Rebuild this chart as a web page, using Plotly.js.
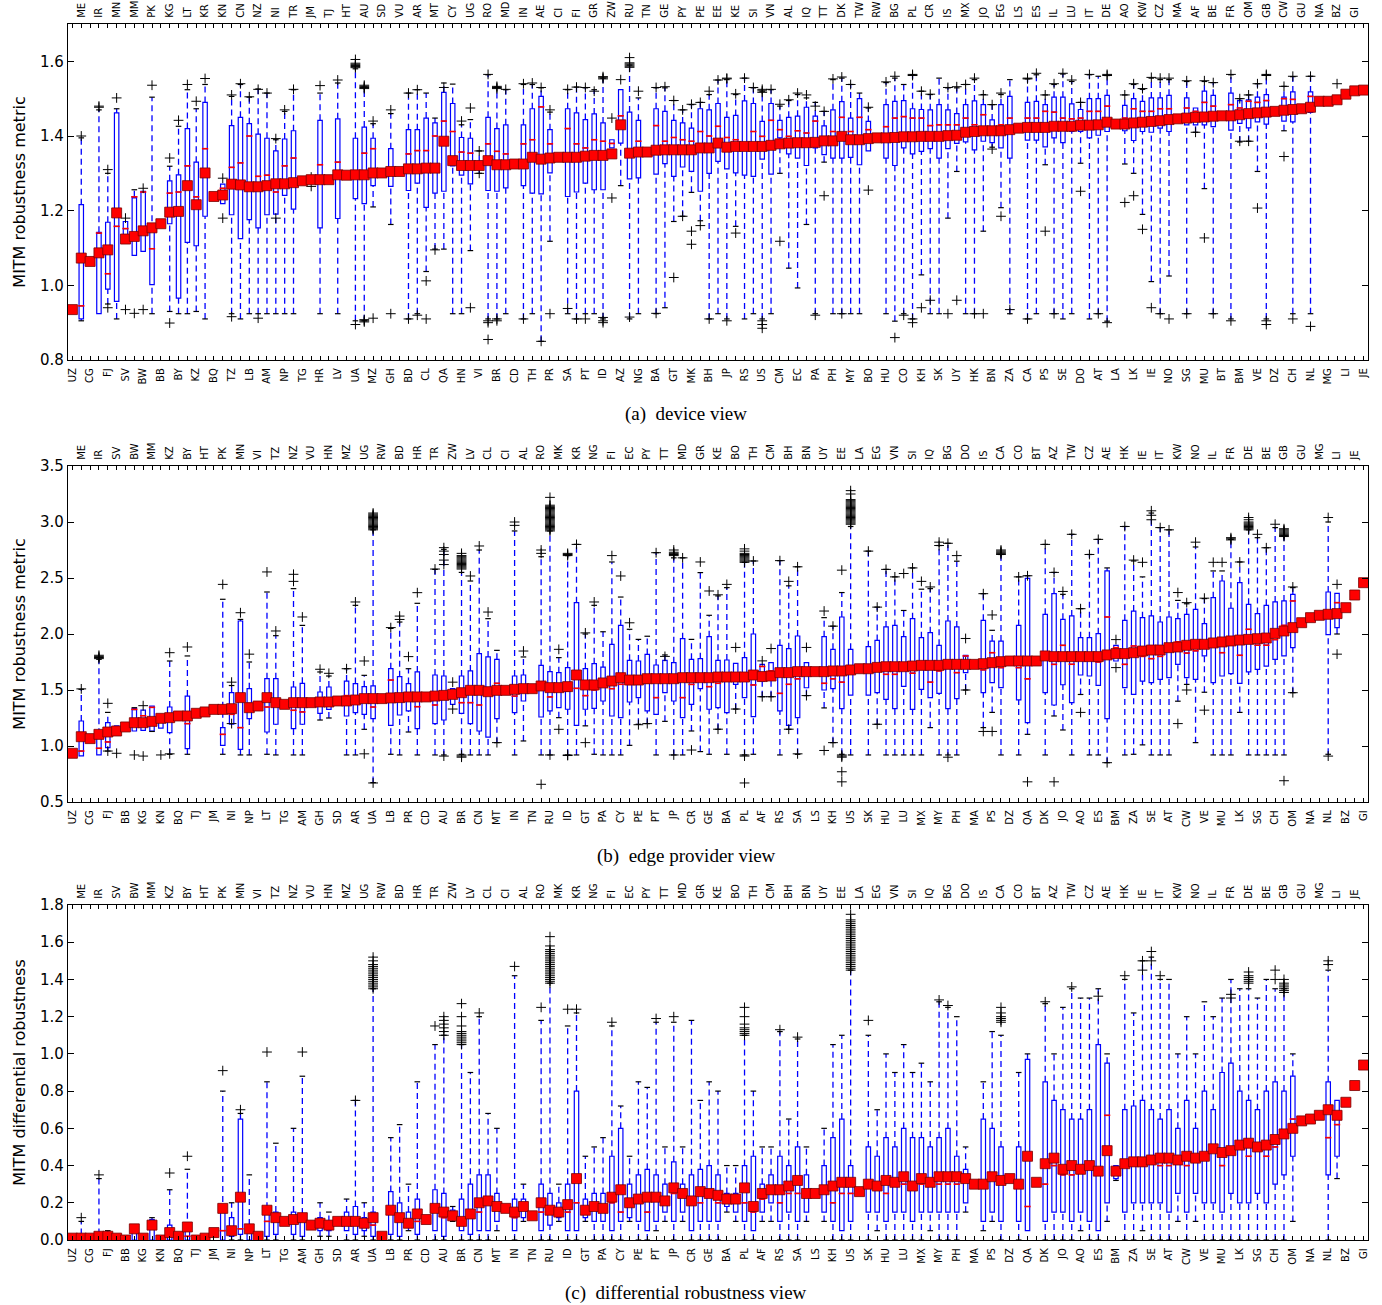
<!DOCTYPE html>
<html><head><meta charset="utf-8">
<script src="https://cdn.plot.ly/plotly-3.0.1.min.js"></script>
<style>html,body{margin:0;padding:0;background:#fff}#chart{width:1382px;height:1305px}</style>
</head><body><div id="chart"></div>
<script>
// ---------- tick labels ----------
const aBottom = ["UZ","CG","FJ","SV","BW","BB","BY","KZ","BQ","TZ","LB","AM","NP","TG","HR","LV","UA","MZ","GH","BD","CL","QA","HN","VI","BR","CD","TH","PR","SA","PT","ID","AZ","NG","BA","GT","MK","BH","JP","RS","US","CM","EC","PA","PH","MY","BO","HU","CO","KH","SK","UY","HK","BN","ZA","CA","PS","SE","DO","AT","LA","LK","IE","NO","SG","MU","BT","BM","VE","DZ","CH","NL","MG","LI","JE"];
const aTop = ["ME","IR","MN","MM","PK","KG","LT","KR","KN","CN","NZ","NI","TR","JM","TJ","HT","AU","SD","VU","AR","MT","CY","UG","RO","MD","IN","AE","CI","FI","GR","ZW","RU","TN","GE","PY","PE","EE","KE","SI","VN","AL","IQ","TT","DK","TW","RW","BG","PL","CR","IS","MX","JO","EG","LS","ES","IL","LU","IT","DE","AO","KW","CZ","MA","AF","BE","FR","OM","GB","CW","GU","NA","BZ","GI"];
const bBottom = ["UZ","CG","FJ","BB","KG","KN","BQ","TJ","JM","NI","NP","LT","TG","AM","GH","SD","AR","UA","LB","PR","CD","AU","BR","CN","MT","IN","TN","RU","ID","GT","PA","CY","PE","PT","JP","CR","GE","BA","PL","AF","RS","SA","LS","KH","US","SK","HU","LU","MX","MY","PH","MA","PS","DZ","QA","DK","JO","AO","ES","BM","ZA","SE","AT","CW","VE","MU","LK","SG","CH","OM","NA","NL","BZ","GI"];
const bTop = ["ME","IR","SV","BW","MM","KZ","BY","HT","PK","MN","VI","TZ","NZ","VU","HN","MZ","UG","RW","BD","HR","TR","ZW","LV","CL","CI","AL","RO","MK","KR","NG","FI","EC","PY","TT","MD","GR","KE","BO","TH","CM","BH","BN","UY","EE","LA","EG","VN","SI","IQ","BG","DO","IS","CA","CO","BT","AZ","TW","CZ","AE","HK","IE","IT","KW","NO","IL","FR","DE","BE","GB","GU","MG","LI","JE"];

// ---------- (a) device view ----------
const aLo = [null,0.905,null,0.924,0.95,0.91,1.136,1.08,1.091,0.924,
null,0.93,0.924,0.924,0.93,0.91,null,1.219,0.924,0.91,
0.924,0.924,0.924,0.924,0.924,0.924,null,null,0.924,null,
0.924,null,0.905,0.905,1.21,null,1.163,null,0.91,0.924,
1.037,1.097,1.097,0.924,0.924,1.093,1.30,0.91,0.91,0.924,
null,0.91,0.924,0.85,1.118,null,0.924,0.91,0.924,0.924,
0.91,1.368,1.267,0.91,0.924,null,0.924,0.94,1.171,1.185,
1.249,1.173,0.91,0.924,0.91,1.158,0.91,0.924,0.91,0.924,
1.30,1.046,0.993,1.163,0.924,1.33,0.924,0.924,0.924,0.924,
1.36,null,0.924,0.904,0.924,0.91,1.028,0.924,0.924,1.18,
1.305,0.924,0.924,1.145,1.37,1.208,0.924,null,0.91,0.924,
1.323,0.924,0.91,0.924,1.327,0.91,0.924,0.904,null,1.325,
1.30,1.19,1.01,0.924,1.025,null,0.924,1.41,1.259,0.924,
null,0.91,1.384,1.386,1.305,0.91,null,1.414,0.924,null,
0.924,null,null,null,null,null,null];
const aQ1 = [null,0.91,null,0.924,0.99,0.957,1.136,1.08,1.091,1.002,
null,1.165,0.966,1.115,1.106,1.185,null,1.219,1.189,1.125,
1.176,1.154,1.189,1.191,1.241,1.204,null,null,1.154,null,
1.179,null,1.232,1.219,1.267,null,1.265,null,1.254,1.274,
1.209,1.247,1.252,1.32,1.295,1.272,1.311,1.254,1.252,1.261,
null,1.267,1.247,1.245,1.301,null,1.238,1.25,1.274,1.256,
1.256,1.368,1.381,1.285,1.288,null,1.298,1.326,1.292,1.317,
1.305,1.252,1.30,1.332,1.312,1.301,1.295,1.292,1.338,1.298,
1.395,1.352,1.341,1.321,1.368,1.35,1.341,1.341,1.343,1.323,
1.36,null,1.341,1.321,1.368,1.352,1.359,1.366,1.341,1.366,
1.38,1.384,1.363,1.386,1.382,1.368,1.341,null,1.389,1.389,
1.371,1.395,1.382,1.412,1.412,1.395,1.402,1.412,null,1.414,
1.388,1.412,1.41,1.421,1.412,null,1.43,1.43,1.43,1.425,
null,1.416,1.434,1.422,1.438,1.432,null,1.44,1.438,null,
1.463,null,null,null,null,null,null];
const aMed = [null,0.945,null,1.14,1.031,1.158,1.152,1.237,1.25,1.098,
null,1.247,1.25,1.32,1.237,1.366,null,1.26,1.316,1.328,
1.40,1.292,1.295,1.25,1.32,1.341,null,null,1.323,null,
1.33,null,1.30,1.354,1.366,null,1.296,null,1.352,1.361,
1.361,1.40,1.44,1.412,1.357,1.354,1.323,1.379,1.359,1.352,
null,1.379,1.39,1.478,1.379,null,1.42,1.379,1.368,1.39,
1.386,1.38,1.454,1.354,1.386,null,1.428,1.386,1.396,1.39,
1.386,1.412,1.40,1.426,1.396,1.39,1.38,1.412,1.399,1.442,
1.417,1.399,1.414,1.408,1.44,1.39,1.412,1.45,1.412,1.45,
1.417,null,1.425,1.448,1.452,1.448,1.448,1.428,1.43,1.43,
1.43,1.448,1.43,1.457,1.41,1.43,1.448,null,1.448,1.448,
1.466,1.464,1.448,1.446,1.448,1.466,1.466,1.48,null,1.448,
1.473,1.466,1.466,1.473,1.473,null,1.475,1.466,1.49,1.48,
null,1.484,1.475,1.493,1.49,1.495,null,1.50,1.498,null,
1.506,null,null,null,null,null,null];
const aQ3 = [null,1.216,null,1.142,1.169,1.462,1.171,1.237,1.252,1.145,
null,1.28,1.296,1.42,1.33,1.49,null,1.271,1.428,1.45,
1.433,1.405,1.394,1.36,1.392,1.414,null,null,1.442,null,
1.446,null,1.394,1.424,1.394,null,1.366,null,1.417,1.417,
1.448,1.435,1.517,1.487,1.396,1.394,1.332,1.45,1.42,1.43,
null,1.43,1.473,1.506,1.417,null,1.473,1.462,1.444,1.459,
1.435,1.39,1.524,1.464,1.442,null,1.473,1.466,1.442,1.435,
1.421,1.473,1.47,1.487,1.45,1.455,1.494,1.487,1.439,1.487,
1.442,1.45,1.453,1.477,1.453,1.427,1.47,1.492,1.448,1.50,
1.439,null,1.484,1.493,1.495,1.473,1.471,1.47,1.484,1.47,
1.46,1.484,1.494,1.484,1.443,1.484,1.506,null,1.49,1.493,
1.484,1.504,1.504,1.486,1.471,1.50,1.50,1.509,null,1.482,
1.50,1.493,1.502,1.502,1.509,null,1.502,1.475,1.52,1.509,
null,1.515,1.495,1.497,1.504,1.511,null,1.504,1.518,null,
1.518,null,null,null,null,null,null];
const aHi = [null,1.395,null,1.47,1.30,1.473,1.171,1.256,1.252,1.504,
null,1.319,1.426,1.524,1.473,1.538,null,1.271,1.506,1.538,
1.504,1.526,1.515,1.39,1.466,1.524,null,null,1.515,null,
1.542,null,1.58,1.531,1.433,null,1.46,null,1.515,1.524,
1.515,1.448,1.542,1.539,1.43,1.444,1.36,1.564,1.531,1.524,
null,1.538,1.538,1.529,1.464,null,1.524,1.531,1.529,1.524,
1.555,1.39,1.524,1.59,1.502,null,1.529,1.529,1.495,1.47,
1.484,1.49,1.511,1.55,1.551,1.511,1.555,1.529,1.52,1.524,
1.48,1.495,1.511,1.502,1.49,1.466,1.551,1.555,1.538,1.515,
1.475,null,1.543,1.555,1.538,1.564,1.52,1.511,1.555,1.529,
1.529,1.538,1.551,1.511,1.484,1.511,1.551,null,1.553,1.564,
1.51,1.538,1.566,1.546,1.49,1.564,1.56,1.562,null,1.51,
1.538,1.525,1.555,1.551,1.551,null,1.546,1.475,1.546,1.543,
null,1.564,1.50,1.51,1.54,1.564,null,1.533,1.559,null,
1.56,null,null,null,null,null,null];
const aMean = [0.935,1.073,1.064,1.087,1.095,1.194,1.124,1.131,1.146,1.154,
1.165,1.196,1.198,1.267,1.216,1.301,1.238,1.242,1.271,1.269,
1.264,1.264,1.267,1.272,1.272,1.275,1.28,1.283,1.283,1.283,
1.296,1.295,1.296,1.296,1.301,1.301,1.305,1.305,1.312,1.312,
1.314,1.314,1.386,1.334,1.321,1.321,1.321,1.334,1.323,1.323,
1.325,1.325,1.343,1.338,1.341,1.343,1.343,1.343,1.346,1.348,
1.348,1.352,1.43,1.354,1.357,1.357,1.362,1.363,1.363,1.363,
1.363,1.368,1.368,1.381,1.37,1.372,1.372,1.372,1.372,1.375,
1.379,1.381,1.382,1.382,1.383,1.387,1.387,1.399,1.39,1.39,
1.393,1.395,1.395,1.396,1.398,1.398,1.399,1.399,1.399,1.401,
1.402,1.41,1.412,1.414,1.414,1.414,1.417,1.421,1.423,1.423,
1.423,1.426,1.426,1.426,1.429,1.429,1.43,1.437,1.432,1.432,
1.435,1.437,1.439,1.441,1.444,1.446,1.448,1.45,1.451,1.453,
1.454,1.454,1.457,1.46,1.462,1.464,1.466,1.469,1.471,1.473,
1.477,1.493,1.493,1.497,1.512,1.521,1.523];
const aOutliers = [[1,1.40],[3,1.477,1.48],[4,1.31,0.94],[5,1.502],[6,1.18,0.935],[7,0.925],[8,1.26,0.935],[9,1.536],[11,1.341,0.899],[12,1.442],[13,1.538],[14,1.493],[15,1.554],[17,1.287,1.18],[18,1.51,0.916],[19,1.54],[20,1.505],[21,1.525,0.912],[22,1.515],[23,1.393,1.18],[24,1.47],[25,1.525],[27,1.29,1.265],[28,1.535],[30,1.55],[32,1.583,1.586,1.589,1.592,1.595,1.605,0.895],[33,1.527,1.530,1.533,1.536,0.902,0.905,0.908],[34,1.44,0.912],[36,1.47,0.924],[38,1.515,0.91],[39,1.524,0.92],[40,1.012,0.91],[41,1.095],[42,1.53],[44,1.44],[45,1.475,0.94],[46,1.30,1.36],[47,0.855,0.905,0.9,1.565],[48,1.527,1.530,1.533,0.905,0.91],[49,1.525],[51,1.54,0.91],[52,1.542],[53,1.53,0.85],[54,1.47,0.924],[56,0.938,1.525],[57,1.531,0.91],[58,0.91,1.53],[59,1.52],[60,1.553,1.556,1.559,0.914,0.905,0.9],[61,1.448,1.234],[62,1.551],[63,1.584,1.587,1.590,1.593,1.596,1.61,0.915],[64,1.52],[66,1.53,0.925],[67,1.532],[68,1.495,1.021],[69,1.47,1.185],[70,1.485,1.145,1.11],[71,1.49,1.16],[72,0.91,1.52],[73,1.55],[74,1.553,1.555,0.905],[75,1.513,1.14],[76,1.555],[77,1.53],[78,1.517,1.521,1.525,0.905,0.895,0.885],[79,1.525],[80,1.485,1.118],[81,1.497],[82,1.515],[83,1.51],[84,1.48,0.92],[85,1.466,1.24],[86,1.553],[87,1.558,0.924],[88,1.538],[90,1.477,1.255],[92,1.545],[93,1.56,0.86],[94,0.92],[95,1.562,1.565,0.91,0.90],[96,1.52,0.94],[97,1.512,0.96],[99,1.53,0.924],[100,1.532,0.96],[101,1.538],[102,1.555,0.924],[103,1.51,0.924],[104,1.484,1.365],[105,1.515,1.185],[106,0.935],[108,1.553,1.555,0.91],[109,1.568],[110,1.51,1.145],[111,1.54,0.924],[112,1.568],[113,1.55],[114,1.49,1.252],[115,1.565],[116,0.924],[117,1.562,1.565,0.9],[119,1.51,1.222],[120,1.54,1.24],[121,1.527,1.15],[122,1.557,0.94],[123,1.555,0.924],[124,1.555,0.91],[126,1.548,0.924],[127,1.41],[128,1.548,1.127],[129,1.543,0.924],[131,1.565,0.905],[132,1.5,1.386],[133,1.51,1.386],[134,1.54,1.207],[135,1.562,1.565,0.905,0.895],[137,1.533,1.345],[138,1.56,0.91],[140,1.56,0.89],[143,1.54]];

// ---------- (b) edge provider view ----------
const bLo = [null,0.911,null,0.92,0.955,1.149,null,1.134,1.14,1.13,
1.16,0.926,null,0.926,null,null,null,0.926,1.194,0.92,
0.92,null,0.926,0.92,null,0.92,0.92,null,1.232,1.25,
null,0.92,0.92,1.149,0.673,null,0.926,0.92,1.125,0.92,
null,0.92,0.92,1.372,0.926,0.92,0.92,0.92,1.03,null,
0.92,1.045,null,0.92,0.92,1.253,0.92,0.92,1.18,0.926,
0.92,0.92,0.92,1.006,1.194,1.20,0.92,1.22,0.92,0.92,
1.134,0.95,0.926,1.149,0.926,1.33,0.92,0.926,1.44,1.44,
0.92,1.149,0.926,1.45,null,1.34,1.03,0.926,0.92,null,
0.92,1.194,0.92,0.92,0.92,0.92,0.92,1.164,0.92,0.92,
0.92,1.50,null,1.164,1.30,0.92,null,0.92,1.104,null,
0.92,1.268,1.143,0.92,1.46,0.92,0.92,0.851,1.759,0.92,
0.926,1.01,0.92,0.92,0.92,1.40,1.55,1.03,1.48,0.92,
0.92,0.92,1.30,0.92,0.92,0.92,0.92,0.92,1.476,null,
null,null,0.926,2.0,null,null,null];
const bQ1 = [null,0.911,null,0.92,0.985,1.149,null,1.134,1.14,1.134,
1.16,1.119,null,0.976,null,null,null,1.006,1.194,0.97,
1.244,null,1.125,1.194,null,1.155,1.194,null,1.292,1.327,
null,1.268,1.298,1.283,1.244,null,1.185,1.277,1.313,1.155,
null,1.20,1.232,1.372,1.292,1.20,1.134,1.08,1.244,null,
1.298,1.402,null,1.259,1.313,1.342,1.328,1.185,1.328,1.336,
1.402,1.268,1.253,1.393,1.432,1.313,1.283,1.476,1.402,1.253,
1.372,1.512,1.328,1.342,1.298,1.551,1.432,1.262,1.58,1.625,
1.313,1.185,1.253,1.52,null,1.50,1.512,1.333,1.455,null,
1.455,1.476,1.417,1.333,1.533,1.327,1.506,1.432,1.47,1.333,
1.423,1.655,null,1.476,1.565,1.521,null,1.411,1.208,null,
1.476,1.366,1.547,1.387,1.634,1.625,1.542,1.244,1.759,1.521,
1.461,1.58,1.565,1.595,1.61,1.729,1.61,1.595,1.804,1.565,
1.625,1.646,1.56,1.661,1.685,1.714,1.774,1.804,1.878,null,
null,null,1.994,2.057,null,null,null];
const bMed = [null,0.955,null,0.98,1.036,1.16,null,1.327,1.27,1.345,
1.22,1.25,null,1.2,null,null,null,1.104,1.283,1.164,
1.38,null,1.348,1.393,null,1.319,1.304,null,1.41,1.41,
null,1.45,1.42,1.40,1.348,null,1.589,1.45,1.45,1.351,
null,1.366,1.42,1.45,1.387,1.387,1.366,1.49,1.56,null,
1.446,1.50,null,1.51,1.438,1.50,1.49,1.515,1.45,1.50,
1.55,1.512,1.551,1.55,1.58,1.56,1.432,1.60,1.60,1.432,
1.55,1.60,1.53,1.56,1.61,1.625,1.595,1.545,1.71,1.67,
1.47,1.551,1.60,1.65,null,1.56,1.60,1.57,1.65,null,
1.66,1.69,1.64,1.64,1.72,1.65,1.70,1.57,1.67,1.73,
1.655,1.804,null,1.68,1.833,1.70,null,1.70,1.60,null,
1.80,1.729,1.899,1.73,1.80,1.80,1.75,2.152,1.878,1.729,
1.893,1.80,1.78,1.80,1.85,1.93,1.83,1.85,1.90,1.90,
1.833,1.90,1.81,2.042,1.90,1.90,1.95,2.077,2.295,null,
null,null,2.206,2.28,null,null,null];
const bQ3 = [null,1.223,null,1.104,1.208,1.179,null,1.333,1.32,1.357,
1.26,1.348,null,1.446,null,null,null,1.164,1.476,2.116,
1.512,null,1.601,1.601,null,1.527,1.56,null,1.482,1.527,
null,1.58,1.557,1.53,1.536,null,1.69,1.619,1.557,1.661,
null,1.634,1.625,1.512,1.625,1.67,1.824,1.795,1.774,null,
1.625,1.634,null,1.72,1.664,1.655,1.70,2.28,1.69,1.735,
1.705,1.908,2.077,1.765,1.759,1.818,1.723,1.765,1.744,1.958,
1.774,1.78,1.976,1.765,1.768,1.738,1.789,2.0,1.729,1.744,
1.899,1.869,1.982,1.744,null,1.976,1.863,2.152,1.863,null,
1.887,1.943,2.063,2.077,1.976,2.137,1.967,2.012,1.899,2.116,
2.063,1.81,null,2.122,1.937,1.937,null,2.077,2.497,null,
2.176,2.36,2.131,2.161,1.967,1.967,2.003,2.563,1.899,2.122,
2.205,2.146,2.161,2.107,2.152,2.137,2.176,2.22,2.092,2.324,
2.473,2.23,2.458,2.265,2.182,2.256,2.286,2.295,2.354,null,
null,null,2.375,2.363,null,null,null];
const bHi = [null,1.506,null,1.774,1.30,1.179,null,1.342,1.32,1.357,
1.26,1.759,null,1.804,null,null,null,2.31,1.54,2.13,
1.75,null,2.375,1.985,null,2.405,2.077,null,1.661,1.625,
null,1.69,2.256,1.631,2.93,null,2.05,2.107,1.69,2.274,
null,2.577,2.756,1.512,2.55,2.473,2.75,2.137,1.854,null,
2.92,1.795,null,2.69,2.92,1.789,2.70,2.80,2.0,2.256,
2.02,2.643,2.33,2.042,1.952,1.98,2.726,1.813,2.68,2.68,
1.952,2.548,2.167,2.34,2.414,1.738,2.64,2.652,1.729,1.744,
2.655,2.43,2.6,1.744,null,2.146,2.07,2.37,2.96,null,
2.74,2.24,2.577,2.51,2.21,2.59,2.40,2.405,2.79,2.81,
2.65,1.81,null,2.36,2.033,2.71,null,2.51,2.52,null,
2.80,2.55,2.354,2.89,2.226,2.71,2.845,2.59,1.899,2.96,
2.652,2.51,3.08,2.95,2.93,2.30,2.27,2.777,2.316,2.563,
2.563,2.845,2.643,2.93,2.86,2.77,2.95,2.875,2.414,null,
null,null,3.0,2.363,null,null,null];
const bMean = [0.935,1.083,1.066,1.104,1.125,1.134,1.17,1.208,1.208,1.22,
1.247,1.253,1.268,1.268,1.292,1.304,1.327,1.327,1.333,1.432,
1.342,1.357,1.432,1.387,1.372,1.387,1.387,1.387,1.393,1.393,
1.402,1.402,1.411,1.423,1.423,1.423,1.429,1.432,1.438,1.438,
1.438,1.446,1.452,1.461,1.476,1.497,1.497,1.485,1.497,1.497,
1.506,1.512,1.512,1.536,1.521,1.521,1.53,1.634,1.545,1.545,
1.563,1.58,1.61,1.589,1.589,1.601,1.601,1.601,1.601,1.61,
1.61,1.61,1.61,1.616,1.616,1.616,1.616,1.634,1.62,1.625,
1.655,1.655,1.664,1.664,1.664,1.664,1.67,1.67,1.679,1.69,
1.69,1.702,1.708,1.708,1.708,1.714,1.72,1.72,1.72,1.729,
1.729,1.729,1.729,1.735,1.744,1.753,1.759,1.759,1.759,1.759,
1.804,1.798,1.798,1.798,1.798,1.798,1.798,1.813,1.825,1.825,
1.833,1.848,1.857,1.857,1.878,1.884,1.899,1.908,1.908,1.92,
1.929,1.938,1.946,1.952,1.958,1.964,2.006,2.027,2.057,2.101,
2.146,2.167,2.176,2.182,2.235,2.348,2.458];
const bOutliers = [[1,1.51],[3,1.78,1.79,1.80,1.81],[4,1.381,0.955],[5,0.935],[7,0.92],[8,1.36,0.91],[10,0.92],[11,1.833,0.93],[13,1.884],[17,2.443],[18,1.57,1.20],[19,2.19],[20,1.82],[22,2.554],[23,2.027],[25,2.533,2.47],[26,2.152],[28,1.685],[29,1.649],[31,1.69],[32,2.286],[33,1.759,0.93],
[34,2.93,2.94,2.95,2.96,2.97,2.98,2.99,3.00,3.01,3.02,3.03,3.04,3.05,3.06,3.07,3.08,0.67],[36,2.057],[37,2.16,2.13],[38,1.798],[39,2.369],[41,2.58],[42,2.771,2.74,2.71,2.66,2.62,0.91],[43,1.57,1.33],
[44,2.58,2.59,2.60,2.61,2.62,2.63,2.64,2.65,2.66,2.67,2.68,2.69,2.70,2.72,0.92,0.91,0.90],[45,2.518],[46,2.786],[47,2.196],[48,1.03],[50,3.0,2.97],[51,1.848],[53,2.72,2.75,0.658],
[54,2.92,2.93,2.94,2.95,2.96,2.97,2.98,2.99,3.00,3.01,3.02,3.03,3.04,3.05,3.06,3.07,3.08,3.09,3.10,3.11,3.12,3.13,3.14,3.15,3.22,0.92],[55,1.863,1.149],[56,2.70,2.71,2.72,0.92,0.915],[57,2.8],[58,2.01,1.03],[59,2.286],[61,2.7],[62,2.518],[63,2.1],[64,1.19],[65,1.2],[66,2.726],[67,1.80],[68,2.70,2.71,2.72,2.73,2.75,0.92],[69,2.68],[70,0.964],[71,2.643],[72,2.384],[73,2.35,1.15],[74,2.443],[75,1.88,1.33],
[76,2.64,2.65,2.66,2.67,2.68,2.69,2.70,2.71,2.72,2.74,2.76,0.92,0.91,0.67],[77,2.652],[78,1.76,1.44],[79,1.87,1.44],[80,2.655],[81,2.47,1.15],[82,2.6,0.93],[83,1.88,1.45],[85,2.205,0.96],[86,2.07,1.03],[87,2.57,0.92,0.91,0.90,0.77,0.68],
[88,2.98,2.99,3.00,3.01,3.02,3.03,3.04,3.05,3.06,3.07,3.08,3.09,3.10,3.11,3.12,3.13,3.14,3.15,3.16,3.17,3.18,3.19,3.20,3.25,3.28],[90,2.74],[91,2.24,1.194],[92,2.577],[93,2.51],[94,2.54],[95,2.59],[96,2.47],[97,2.42],[98,2.79,2.82],[99,2.81,0.9],[100,2.7],[101,1.96,1.75,1.50],[103,2.36,1.13],[104,2.17,1.13],[105,2.71,2.72,2.73,2.74,2.75],[107,2.51],[108,2.52,0.68],[110,2.80],[111,2.55,0.68],[112,2.38],[113,2.89],[114,2.226,1.3],[115,2.71],[116,2.845],[117,0.851],[118,1.95,1.70],[119,2.96],[120,2.66],[121,2.64],[122,3.1,3.06,3.02],[123,2.95],[124,2.93],[125,2.37,1.2],[126,2.28,1.5],[127,2.82],[128,2.32,1.32],[129,2.64],[130,2.64],[131,2.84,2.85,2.86],[132,2.643],[133,2.93,2.94,2.95,2.96,2.97,2.98,2.99,3.00,3.02,3.04],[134,2.89],[135,2.77],[136,2.98],[137,2.87,2.88,2.89,2.90,2.91,2.92,2.93,2.94,0.69],[138,2.42,1.476],[142,3.04,0.91],[143,2.443,1.82]];

// ---------- (c) differential robustness view ----------
const cLo = [null,0,null,0,0,0,null,0,0,0,
0,0,null,0,null,null,null,0,0,0,
0,null,0,0,null,0,0,null,0.02,0.02,
null,0,0,0.02,0,null,0,0,0.05,0,
null,0,0,0.1,0,0,0,0,0.05,null,
0,0.1,null,0,0,0.1,0,0,0.1,0,
0,0,0,0.1,0,0,0.05,0.1,0,0.1,
0,0,0,0,0.15,0.1,0,0,0.1,0.1,
0,0,0,0.1,null,0.1,0,0,0,null,
0,0.05,0,0,0,0,0,0.05,0,0,
0,0.15,null,0.05,0.1,0,null,0,0.05,null,
0,0,0,0,0.05,0,0,0.1,0.32,0,
0,0.05,0,0,0,0.1,0,0.1,0,0,
0,0,0,0,0,0,0,0,0.1,null,
null,null,0,0.33,null,null,null];
const cQ1 = [null,0,null,0,0,0,null,0,0,0,
0,0,null,0,null,null,null,0,0.02,0.03,
0,null,0.02,0.03,null,0.03,0.02,null,0.05,0.05,
null,0.05,0.03,0.05,0.02,null,0.03,0.02,0.08,0.03,
null,0.05,0.02,0.12,0.05,0.03,0.05,0.05,0.1,null,
0.05,0.12,null,0.05,0.08,0.12,0.05,0.05,0.12,0.1,
0.1,0.05,0.1,0.12,0.1,0.05,0.1,0.15,0.1,0.15,
0.05,0.1,0.1,0.1,0.18,0.15,0.1,0.05,0.15,0.2,
0.1,0.15,0.1,0.15,null,0.15,0.1,0.05,0.1,null,
0.15,0.15,0.1,0.15,0.15,0.1,0.15,0.15,0.15,0.15,
0.15,0.2,null,0.1,0.15,0.1,null,0.1,0.05,null,
0.1,0.15,0.15,0.1,0.15,0.1,0.05,0.2,0.33,0.15,
0.2,0.2,0.2,0.2,0.15,0.25,0.15,0.25,0.2,0.2,
0.15,0.25,0.2,0.2,0.25,0.2,0.3,0.35,0.45,null,
null,null,0.35,0.45,null,null,null];
const cMed = [null,0.01,null,0.01,0.01,0,null,0.05,0,0.08,
0,0.02,null,0.02,null,null,null,0.05,0.07,0.06,
0.04,null,0.1,0.1,null,0.1,0.1,null,0.09,0.08,
null,0.1,0.1,0.08,0.08,null,0.15,0.1,0.1,0.1,
null,0.15,0.12,0.14,0.1,0.12,0.15,0.22,0.2,null,
0.12,0.18,null,0.15,0.15,0.15,0.15,0.2,0.15,0.18,
0.16,0.2,0.15,0.18,0.2,0.15,0.22,0.2,0.25,0.25,
0.2,0.2,0.25,0.2,0.22,0.2,0.2,0.15,0.22,0.25,
0.2,0.25,0.25,0.25,null,0.25,0.2,0.25,0.25,null,
0.3,0.3,0.25,0.3,0.3,0.3,0.3,0.3,0.3,0.3,
0.3,0.35,null,0.3,0.35,0.3,null,0.3,0.18,null,
0.3,0.4,0.35,0.35,0.4,0.4,0.35,0.67,0.36,0.4,
0.4,0.4,0.45,0.4,0.4,0.45,0.4,0.42,0.45,0.5,
0.4,0.5,0.5,0.45,0.5,0.45,0.5,0.55,0.65,null,
null,null,0.55,0.62,null,null,null];
const cQ3 = [null,0.03,null,0.03,0.04,0.02,null,0.07,0.02,0.11,
0.01,0.08,null,0.06,null,null,null,0.15,0.12,0.65,
0.08,null,0.17,0.15,null,0.15,0.14,null,0.12,0.1,
null,0.15,0.18,0.12,0.15,null,0.26,0.2,0.15,0.22,
null,0.27,0.25,0.16,0.22,0.3,0.35,0.35,0.25,null,
0.22,0.22,null,0.3,0.25,0.2,0.3,0.8,0.22,0.25,
0.25,0.45,0.6,0.3,0.35,0.38,0.35,0.3,0.42,0.3,
0.35,0.38,0.4,0.35,0.25,0.25,0.4,0.45,0.3,0.35,
0.45,0.4,0.5,0.35,null,0.4,0.55,0.65,0.4,null,
0.5,0.45,0.55,0.5,0.6,0.55,0.55,0.5,0.55,0.6,
0.45,0.38,null,0.65,0.6,0.5,null,0.5,0.97,null,
0.85,0.75,0.7,0.65,0.65,0.7,1.05,0.95,0.4,0.7,
0.72,0.75,0.7,0.65,0.7,0.6,0.75,0.6,0.8,0.7,
0.9,0.95,0.8,0.75,0.7,0.8,0.85,0.8,0.88,null,
null,null,0.85,0.75,null,null,null];
const cHi = [null,0.10,null,0.33,0.05,0.02,null,0.07,0.02,0.12,
0.01,0.27,null,0.38,null,null,null,0.8,0.2,0.68,
0.35,null,0.85,0.52,null,0.6,0.88,null,0.2,0.15,
null,0.22,0.75,0.2,1.35,null,0.55,0.62,0.3,0.85,
null,1.05,1.1,0.18,1.05,0.9,1.2,0.68,0.6,null,
1.42,0.3,null,1.18,1.38,0.3,1.15,1.22,0.45,0.5,
0.55,1.15,0.72,0.45,0.85,0.82,1.17,0.5,1.17,0.5,
1.18,0.75,0.85,0.8,0.4,0.4,1.1,0.8,0.5,0.5,
1.12,0.65,1.08,0.5,null,0.6,1.05,1.1,1.45,null,
1.1,0.7,1.0,0.9,1.05,0.9,0.95,0.85,1.28,1.25,
1.2,0.5,null,0.85,1.12,1.1,null,0.9,1.0,null,
1.27,1.0,1.25,1.35,1.3,1.3,1.35,1.0,0.4,1.4,
1.22,1.5,1.52,1.4,1.4,1.0,1.2,1.0,1.28,1.2,
1.3,1.4,1.35,1.35,1.3,1.4,1.35,1.35,1.0,null,
null,null,1.45,0.75,null,null,null];
const cMean = [0.01,0.01,0.01,0.02,0.02,0.01,0.0,0.06,0.01,0.08,
0.0,0.04,0.02,0.07,0.0,0.01,0.04,0.17,0.05,0.23,
0.06,0.02,0.16,0.12,0.10,0.11,0.12,0.08,0.09,0.08,
0.10,0.10,0.10,0.09,0.12,0.02,0.16,0.12,0.09,0.14,
0.11,0.17,0.15,0.13,0.10,0.14,0.20,0.21,0.18,0.17,
0.15,0.18,0.13,0.20,0.16,0.15,0.19,0.33,0.16,0.18,
0.17,0.23,0.27,0.20,0.22,0.23,0.23,0.21,0.28,0.25,
0.21,0.26,0.25,0.24,0.22,0.22,0.28,0.18,0.25,0.27,
0.27,0.29,0.32,0.25,0.25,0.27,0.29,0.31,0.31,0.26,
0.30,0.29,0.32,0.31,0.34,0.29,0.33,0.31,0.34,0.34,
0.34,0.33,0.30,0.30,0.34,0.32,0.33,0.30,0.45,0.31,
0.41,0.44,0.38,0.40,0.38,0.40,0.37,0.48,0.37,0.41,
0.42,0.42,0.43,0.44,0.44,0.43,0.45,0.44,0.45,0.49,
0.47,0.48,0.51,0.52,0.50,0.51,0.54,0.57,0.60,0.64,
0.65,0.67,0.70,0.67,0.74,0.83,0.94];
const cOutliers = [[1,0.12],[3,0.35],[11,0.36],[13,0.45],[17,0.91],[19,0.7],[22,1.01],[26,1.01],[32,0.75],
[34,1.35,1.36,1.37,1.38,1.39,1.40,1.41,1.42,1.43,1.44,1.45,1.46,1.47,1.48,1.50,1.52],[41,1.15],[42,1.1,1.12,1.14,1.16,1.18,1.2],[44,1.05,1.06,1.07,1.08,1.09,1.10,1.11,1.12,1.15,1.2,1.27],[46,1.22],[50,1.47],[53,1.25],
[54,1.38,1.39,1.40,1.41,1.42,1.43,1.44,1.45,1.46,1.47,1.48,1.49,1.50,1.51,1.52,1.53,1.54,1.55,1.56,1.58,1.63],[56,1.24],[57,1.24],[61,1.17],[66,1.19],[68,1.2],[76,1.1,1.11,1.12,1.13,1.14,1.16,1.2,1.25],[80,1.13],[82,1.09],
[88,1.45,1.46,1.47,1.48,1.49,1.50,1.51,1.52,1.53,1.54,1.55,1.56,1.57,1.58,1.59,1.60,1.61,1.62,1.63,1.64,1.65,1.66,1.67,1.68,1.69,1.70,1.71,1.72,1.75],[90,1.18],[98,1.29],[99,1.26],[105,1.17,1.18,1.19,1.2,1.22,1.25],[110,1.28],[113,1.36],[116,1.31],[119,1.42],[121,1.5,1.45],[122,1.55,1.5],[123,1.42],[131,1.3,1.32],[133,1.38,1.39,1.40,1.41,1.42,1.44],[136,1.4,1.45],[137,1.33,1.34,1.35,1.36,1.37,1.38,1.4],[142,1.5,1.48]];

// ---------- drawing ----------
const N = aMean.length;
const BLUE = '#0000ff';

function panelTraces(lo, q1, med, q3, hi, mean, outliers, xa, xaTop, ya) {
  const bx = [], bq1 = [], bmed = [], bq3 = [];
  const wx = [], wy = [], cx = [], cy = [];
  for (let i = 0; i < N; i++) {
    if (q1[i] == null) continue;
    bx.push(i); bq1.push(q1[i]); bmed.push(med[i]); bq3.push(q3[i]);
    if (lo[i] < q1[i]) { wx.push(i, i, null); wy.push(lo[i], q1[i], null); cx.push(i); cy.push(lo[i]); }
    if (hi[i] > q3[i]) { wx.push(i, i, null); wy.push(q3[i], hi[i], null); cx.push(i); cy.push(hi[i]); }
  }
  const ox = [], oy = [];
  outliers.forEach(r => { for (let k = 1; k < r.length; k++) { ox.push(r[0]); oy.push(r[k]); } });
  const mx = mean.map((_, i) => i);
  const common = { xaxis: xa, yaxis: ya, hoverinfo: 'skip', showlegend: false };
  return [
    Object.assign({ type: 'scatter', mode: 'lines', x: wx, y: wy, connectgaps: false,
      line: { color: BLUE, width: 1.3, dash: '6px,4px' } }, common),
    Object.assign({ type: 'box', x: bx, q1: bq1, median: bmed, q3: bq3, lowerfence: bq1, upperfence: bq3,
      width: 0.5, boxpoints: false, line: { color: BLUE, width: 1.2 }, fillcolor: 'rgba(255,255,255,0)' }, common),
    Object.assign({ type: 'scatter', mode: 'markers', x: cx, y: cy,
      marker: { symbol: 'line-ew', size: 4, line: { color: '#000', width: 1.2 } } }, common),
    Object.assign({ type: 'scatter', mode: 'markers', x: bx, y: bmed,
      marker: { symbol: 'line-ew', size: 4.5, line: { color: '#ff0000', width: 1.6 } } }, common),
    Object.assign({ type: 'scatter', mode: 'markers', x: ox, y: oy,
      marker: { symbol: 'cross-thin', size: 7, line: { color: '#000', width: 1 } } }, common),
    Object.assign({ type: 'scatter', mode: 'markers', x: mx, y: mean,
      marker: { symbol: 'square', size: 10, color: '#ff0000', line: { color: '#7a0000', width: 0.8 } } }, common),
    // invisible copy bound to the top category axis so that axis is drawn
    { type: 'scatter', mode: 'markers', x: mx, y: mean, xaxis: xaTop, yaxis: ya,
      marker: { opacity: 0, size: 1 }, hoverinfo: 'skip', showlegend: false }
  ];
}

const traces = [].concat(
  panelTraces(aLo, aQ1, aMed, aQ3, aHi, aMean, aOutliers, 'x', 'x2', 'y'),
  panelTraces(bLo, bQ1, bMed, bQ3, bHi, bMean, bOutliers, 'x3', 'x4', 'y2'),
  panelTraces(cLo, cQ1, cMed, cQ3, cHi, cMean, cOutliers, 'x5', 'x6', 'y3')
);

const evens = [], odds = [];
for (let i = 0; i < N; i++) (i % 2 === 0 ? evens : odds).push(i);
const XDOM = [68 / 1382, 1368 / 1382];
const XR = [-0.5, N - 0.5];
const catFont = { family: 'DejaVu Sans', size: 10, color: '#000' };

function xAxis(anchorY, side, vals, labels, overlay) {
  const ax = {
    domain: XDOM, range: XR, anchor: anchorY, side: side,
    tickmode: 'array', tickvals: vals, ticktext: labels, tickangle: -90,
    ticks: 'inside', ticklen: 4, tickwidth: 1, tickcolor: '#000',
    showline: true, linecolor: '#000', linewidth: 1.2, mirror: 'ticks',
    showgrid: false, zeroline: false, tickfont: catFont, ticklabelstandoff: 3, fixedrange: true
  };
  if (overlay) ax.overlaying = overlay;
  return ax;
}
function yAxis(dom, range, dtick, title) {
  return {
    domain: dom, range: range, dtick: dtick, tick0: 0, tickformat: '.1f',
    ticks: 'inside', ticklen: 6, tickwidth: 1, tickcolor: '#000',
    showline: true, linecolor: '#000', linewidth: 1.2, mirror: 'ticks',
    showgrid: false, zeroline: false, fixedrange: true,
    tickfont: { family: 'DejaVu Sans', size: 15, color: '#000' },
    title: { text: title, font: { family: 'DejaVu Sans', size: 16, color: '#000' }, standoff: 10 }
  };
}
const H = 1305;
const layout = {
  width: 1382, height: 1305, margin: { l: 0, r: 0, t: 0, b: 0 },
  paper_bgcolor: '#fff', plot_bgcolor: '#fff', showlegend: false, boxmode: 'overlay',
  font: { family: 'DejaVu Sans', color: '#000' },
  xaxis: xAxis('y', 'bottom', evens, aBottom),
  xaxis2: xAxis('y', 'top', odds, aTop, 'x'),
  xaxis3: xAxis('y2', 'bottom', evens, bBottom),
  xaxis4: xAxis('y2', 'top', odds, bTop, 'x3'),
  xaxis5: xAxis('y3', 'bottom', evens, bBottom),
  xaxis6: xAxis('y3', 'top', odds, bTop, 'x5'),
  yaxis: yAxis([(H - 360) / H, (H - 24) / H], [0.8, 1.7], 0.2, 'MITM robustness metric'),
  yaxis2: Object.assign(yAxis([(H - 802) / H, (H - 466) / H], [0.5, 3.5], 0.5, 'MITM robustness metric'), { anchor: 'x3' }),
  yaxis3: Object.assign(yAxis([(H - 1240) / H, (H - 905) / H], [0, 1.8], 0.2, 'MITM differential robustness'), { anchor: 'x5' }),
  annotations: [
    { text: '(a)  device view', y: (H - 414) / H },
    { text: '(b)  edge provider view', y: (H - 856) / H },
    { text: '(c)  differential robustness view', y: (H - 1293) / H }
  ].map(a => ({ text: a.text, x: 686 / 1382, y: a.y, xref: 'paper', yref: 'paper', xanchor: 'center', yanchor: 'middle',
    showarrow: false, font: { family: 'Liberation Serif', size: 19, color: '#000' } }))
};
Plotly.newPlot('chart', traces, layout, { staticPlot: true, displayModeBar: false });
</script>
</body></html>
